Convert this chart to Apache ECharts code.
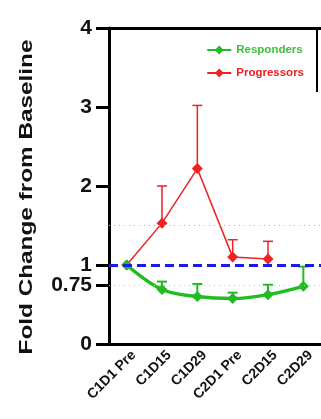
<!DOCTYPE html>
<html><head><meta charset="utf-8">
<script src="https://cdn.jsdelivr.net/npm/echarts@6/dist/echarts.min.js"></script>
<style>html,body{margin:0;padding:0;background:#fff}#c{width:321px;height:419px}</style>
</head><body><div id="c"></div>
<script>
var categories = ['C1D1 Pre','C1D15','C1D29','C2D1 Pre','C2D15','C2D29'];
var responders = [1.0, 0.69, 0.60, 0.575, 0.625, 0.73];
var respondersUpper = [null, 0.79, 0.76, 0.65, 0.75, 0.98];
var progressors = [1.0, 1.53, 2.22, 1.10, 1.075, null];
var progressorsUpper = [null, 2.0, 3.02, 1.32, 1.30, null];
var yTicks = [0, 0.75, 1, 2, 3, 4];
var refLines = {baseline: 1, dottedHigh: 1.5, dottedLow: 0.75};

var GREEN = '#22bb22', RED = '#ee2222';

function errData(means, uppers){
  var out = [];
  for (var i=0;i<means.length;i++){
    if (means[i]!=null && uppers[i]!=null) out.push([i, means[i], uppers[i]]);
  }
  return out;
}
function errRender(color, lw){
  return function(params, api){
    var p0 = api.coord([api.value(0), api.value(1)]);
    var p1 = api.coord([api.value(0), api.value(2)]);
    var hw = 5;
    return {type:'group', children:[
      {type:'line', shape:{x1:p0[0],y1:p0[1],x2:p1[0],y2:p1[1]}, style:{stroke:color,lineWidth:lw}},
      {type:'line', shape:{x1:p1[0]-hw,y1:p1[1],x2:p1[0]+hw,y2:p1[1]}, style:{stroke:color,lineWidth:lw}}
    ]};
  };
}

var chart = echarts.init(document.getElementById('c'), null, {renderer:'canvas'});
chart.setOption({
  animation:false,
  grid:{left:109, right:0, top:28, bottom:75, containLabel:false},
  legend:{
    orient:'vertical', right:12, top:39, itemWidth:24, itemHeight:11, itemGap:11,
    data:[
      {name:'Responders', textStyle:{color:'#3cbf3c'}},
      {name:'Progressors', textStyle:{color:'#e82020'}}
    ],
    textStyle:{fontFamily:'Liberation Sans, Arial', fontWeight:'bold', fontSize:11.5}
  },
  xAxis:[{
    type:'category', data:categories, boundaryGap:true,
    axisLine:{lineStyle:{color:'#000', width:3}},
    axisTick:{alignWithLabel:true, length:14, lineStyle:{color:'#000', width:3}},
    axisLabel:{rotate:45, margin:16, padding:[0,-10,0,0], interval:0, color:'#111', fontFamily:'Liberation Sans, Arial', fontWeight:'bold', fontSize:14}
  },{
    type:'category', data:categories, position:'top',
    axisLine:{lineStyle:{color:'#000', width:3}},
    axisTick:{show:false}, axisLabel:{show:false}
  }],
  yAxis:{
    type:'value', min:0, max:4, interval:0.25,
    axisLine:{show:true, lineStyle:{color:'#000', width:3}},
    axisTick:{show:true, length:13, customValues:yTicks, lineStyle:{color:'#000', width:3}},
    axisLabel:{customValues:yTicks, margin:17, color:'#111', fontFamily:'Liberation Sans, Arial', fontWeight:'bold', fontSize:21,
      formatter:function(v){return String(v);}},
    splitLine:{show:false}
  },
  graphic:[
    {type:'text', x:27, y:197, rotation:Math.PI/2, scaleX:1.28, scaleY:1,
      style:{text:'Fold Change from Baseline', fill:'#111', font:'bold 19px "Liberation Sans", Arial', textAlign:'center', textVerticalAlign:'middle'}},
    {type:'line', shape:{x1:317, y1:27, x2:317, y2:92}, style:{stroke:'#000', lineWidth:2}}
  ],
  series:[
    {name:'Responders', type:'line', data:responders, smooth:0.35,
      symbol:'diamond', symbolSize:11, z:4,
      itemStyle:{color:GREEN}, lineStyle:{color:GREEN, width:3.5},
      markLine:{silent:true, symbol:'none', label:{show:false}, animation:false,
        data:[
          {yAxis:refLines.dottedHigh, lineStyle:{color:'#bbbbbb', type:[1,4], width:1}},
          {yAxis:refLines.dottedLow, lineStyle:{color:'#b8c4e0', type:[1,4], width:1}},
          {yAxis:refLines.baseline, lineStyle:{color:'#1a1aee', type:[9,5], width:3}}
        ]}
    },
    {name:'Progressors', type:'line', data:progressors,
      symbol:'diamond', symbolSize:11, z:3,
      itemStyle:{color:RED}, lineStyle:{color:RED, width:1.5}},
    {type:'custom', data:errData(responders, respondersUpper), renderItem:errRender(GREEN,2), z:2, silent:true},
    {type:'custom', data:errData(progressors, progressorsUpper), renderItem:errRender(RED,1.5), z:2, silent:true}
  ]
});
</script></body></html>
